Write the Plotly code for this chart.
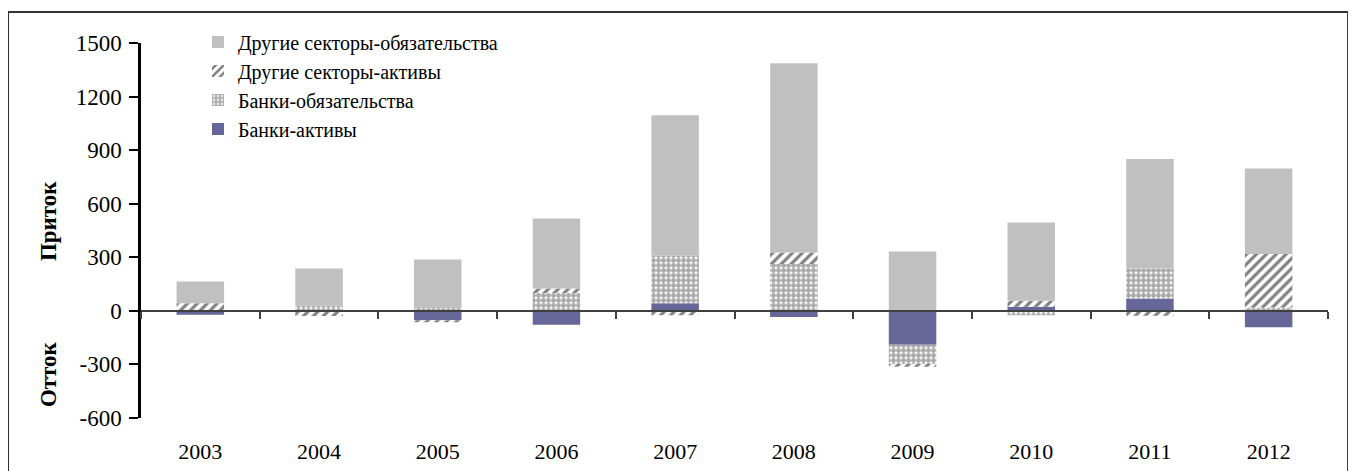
import plotly.graph_objects as go

# ----------------------------------------
# Data
# ----------------------------------------
YEARS = ["2003", "2004", "2005", "2006", "2007", "2008", "2009", "2010", "2011", "2012"]

banks_assets = [-22, 0, -52, -78, 42, -35, -190, 23, 69, -92]
banks_liab = [5, 29, 16, 100, 268, 262, -108, -24, 168, 19]
other_assets = [37, -29, -12, 25, -25, 65, -15, 34, -27, 300]
other_liab = [122, 208, 271, 392, 785, 1059, 332, 438, 614, 478]

Y_TICKS = [-600, -300, 0, 300, 600, 900, 1200, 1500]
Y_TICKTEXT = ["-600", "-300", "0", "300", "600", "900", "1200", "1500"]

FONT = "Liberation Serif"
GRAY = "#c0c0c0"
PURPLE = "#666699"

fig = go.Figure()

# trace order = stacking order from zero outward
fig.add_trace(go.Bar(
    x=YEARS, y=banks_assets, name="Банки-активы",
    marker=dict(color=PURPLE, line_width=0),
))
fig.add_trace(go.Bar(
    x=YEARS, y=banks_liab, name="Банки-обязательства",
    marker=dict(color="white", line_width=0,
                pattern=dict(shape=".", fgcolor="#555555", bgcolor="white",
                             size=5, solidity=0.75)),
))
fig.add_trace(go.Bar(
    x=YEARS, y=other_assets, name="Другие секторы-активы",
    marker=dict(color="white", line_width=0,
                pattern=dict(shape="/", fgcolor="black", bgcolor="white",
                             size=7, solidity=0.45)),
))
fig.add_trace(go.Bar(
    x=YEARS, y=other_liab, name="Другие секторы-обязательства",
    marker=dict(color=GRAY, line_width=0),
))

# zero line with boundary ticks (Excel-style category axis crossing at 0)
fig.add_trace(go.Scatter(
    x=[0, len(YEARS)], y=[0, 0], xaxis="x2", mode="lines",
    line=dict(color="rgba(0,0,0,0)"), showlegend=False, hoverinfo="skip",
))

zero_pos = (0 - Y_TICKS[0]) / (Y_TICKS[-1] - Y_TICKS[0])

fig.update_layout(
    barmode="relative",
    bargap=0.6,
    width=1340,
    height=463,
    plot_bgcolor="white",
    paper_bgcolor="white",
    font=dict(family=FONT, size=22, color="black"),
    margin=dict(l=133, r=20, t=35, b=53),
    showlegend=True,
    legend=dict(
        traceorder="reversed",
        x=0.048, y=1.055, xanchor="left", yanchor="top",
        bgcolor="rgba(0,0,0,0)",
        font=dict(family=FONT, size=20),
        itemwidth=30,
    ),
    xaxis=dict(
        type="category",
        automargin=False,
        showline=False,
        showgrid=False,
        ticks="outside",
        ticklen=14,
        tickcolor="rgba(0,0,0,0)",
        tickfont=dict(family=FONT, size=22),
    ),
    xaxis2=dict(
        overlaying="x",
        anchor="free",
        position=zero_pos,
        range=[0, len(YEARS)],
        tick0=0,
        dtick=1,
        automargin=False,
        showline=True,
        linecolor="#404040",
        linewidth=1.5,
        ticks="outside",
        ticklen=7,
        tickcolor="#404040",
        tickwidth=1.5,
        showticklabels=False,
        showgrid=False,
        zeroline=False,
    ),
    yaxis=dict(
        range=[Y_TICKS[0], Y_TICKS[-1]],
        tickvals=Y_TICKS,
        ticktext=Y_TICKTEXT,
        automargin=False,
        showline=True,
        linecolor="black",
        linewidth=2.5,
        ticks="outside",
        ticklen=9,
        tickwidth=2,
        tickcolor="black",
        ticklabelstandoff=3,
        showgrid=False,
        zeroline=False,
        tickfont=dict(family=FONT, size=23),
    ),
)

# split y-axis captions
fig.add_annotation(
    text="<b>Приток</b>", textangle=-90, xref="paper", yref="y",
    x=-0.078, y=505, xanchor="center", yanchor="middle",
    showarrow=False, font=dict(family=FONT, size=23),
)
fig.add_annotation(
    text="<b>Отток</b>", textangle=-90, xref="paper", yref="y",
    x=-0.078, y=-352, xanchor="center", yanchor="middle",
    showarrow=False, font=dict(family=FONT, size=23),
)

# outer frame of the figure
fig.add_shape(
    type="rect", xref="paper", yref="paper",
    x0=-0.112, x1=1.0169, y0=-0.3, y1=1.0827,
    line=dict(color="#333333", width=2), layer="below",
)

fig.write_html("out.html")
